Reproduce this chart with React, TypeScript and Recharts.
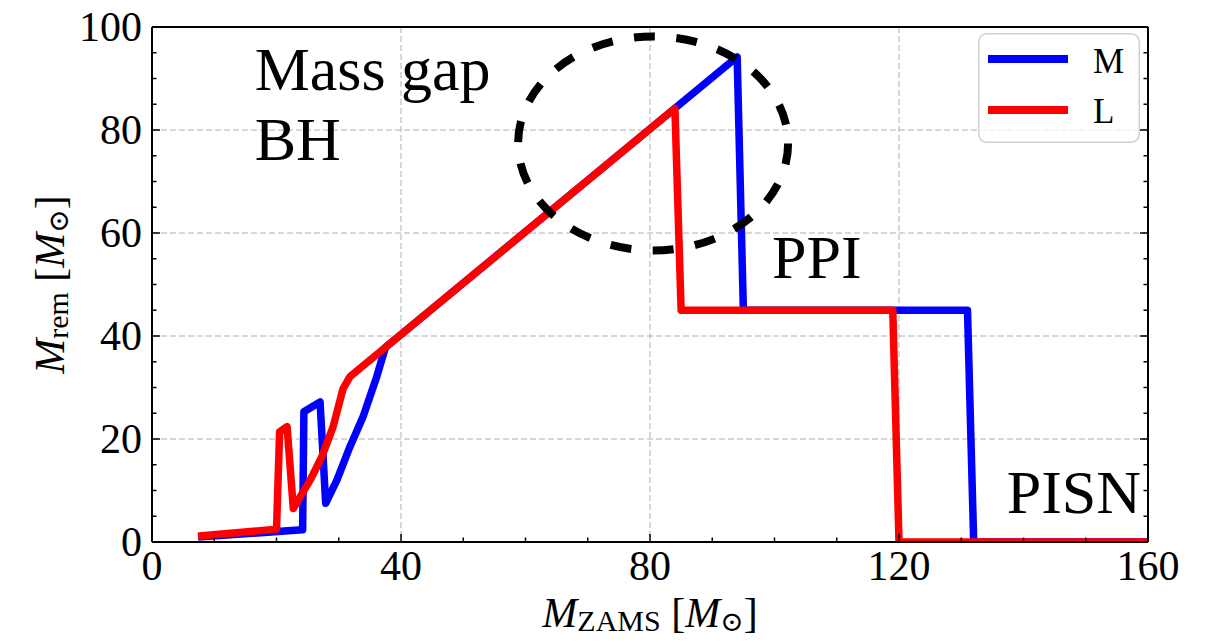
import React from 'react';
import {
  LineChart, Line, XAxis, YAxis, CartesianGrid, ReferenceDot, Legend,
} from 'recharts';

// axis ticks (every minor step), majors carry labels
const xTickValues = [0, 10, 20, 30, 40, 50, 60, 70, 80, 90, 100, 110, 120, 130, 140, 150, 160];
const yTickValues = [0, 5, 10, 15, 20, 25, 30, 35, 40, 45, 50, 55, 60, 65, 70, 75, 80, 85, 90, 95, 100];
const xMajorTicks = [0, 40, 80, 120, 160];
const yMajorTicks = [0, 20, 40, 60, 80, 100];
const xGridValues = [40, 80, 120];
const yGridValues = [20, 40, 60, 80];
const legendOrder = ['M', 'L'];

// model M
const zamsM = [8, 24.2, 24.4, 27, 27.9, 29.7, 31.8, 33.9, 36.1, 37.5, 94, 95, 131, 132, 160];
const remM = [1.0, 2.4, 25.3, 27.2, 7.5, 12, 18.5, 24.3, 32.1, 37.8, 94.2, 45, 45, 0, 0];

// model L
const zamsL = [8, 20, 20.5, 21.7, 22.7, 25.4, 27.3, 29.1, 30.7, 31.8, 84, 85, 119, 120, 160];
const remL = [1.2, 2.5, 21.4, 22.4, 6.5, 12, 16.6, 22.4, 29.8, 32.1, 84.2, 45, 45, 0, 0];

// annotations (data coordinates)
const massGapPos = { x: 16.5, y: 87.8 };
const ppiPos = { x: 99.6, y: 51.3 };
const pisnPos = { x: 137.3, y: 5.6 };
const circleCenter = { x: 80.5, y: 77.4 };

const seriesM = zamsM.map((z, i) => ({ zams: z, rem: remM[i] }));
const seriesL = zamsL.map((z, i) => ({ zams: z, rem: remL[i] }));

const SERIF = '"Liberation Serif", "Times New Roman", "DejaVu Serif", serif';
const TICK = { stroke: '#000', strokeWidth: 1.5 };
const FRAME = { stroke: '#000', strokeWidth: 2 };

const BottomTick = (props: any) => {
  const { x, y, payload } = props;
  const major = xMajorTicks.includes(payload.value);
  return (
    <g>
      <line x1={x} x2={x} y1={y} y2={y - (major ? 8 : 4.5)} {...TICK} />
      {major && (
        <text x={x} y={y + 38} textAnchor="middle" fontFamily={SERIF} fontSize={42} fill="#000">
          {payload.value}
        </text>
      )}
    </g>
  );
};

const TopTick = (props: any) => {
  const { x, y, payload } = props;
  const major = xMajorTicks.includes(payload.value);
  return <line x1={x} x2={x} y1={y} y2={y + (major ? 8 : 4.5)} {...TICK} />;
};

const LeftTick = (props: any) => {
  const { x, y, payload } = props;
  const major = yMajorTicks.includes(payload.value);
  return (
    <g>
      <line x1={x} x2={x + (major ? 8 : 4.5)} y1={y} y2={y} {...TICK} />
      {major && (
        <text x={x - 10} y={y + 14} textAnchor="end" fontFamily={SERIF} fontSize={42} fill="#000">
          {payload.value}
        </text>
      )}
    </g>
  );
};

const RightTick = (props: any) => {
  const { x, y, payload } = props;
  const major = yMajorTicks.includes(payload.value);
  return <line x1={x} x2={x - (major ? 8 : 4.5)} y1={y} y2={y} {...TICK} />;
};

const XLabel = (props: any) => {
  const { viewBox } = props;
  const cx = viewBox.x + viewBox.width / 2;
  return (
    <text x={cx} y={viewBox.y + 85} textAnchor="middle" fontFamily={SERIF} fontSize={42} fill="#000">
      <tspan fontStyle="italic">M</tspan>
      <tspan fontSize={30} dy={4}>ZAMS</tspan>
      <tspan dy={-4}>{' ['}</tspan>
      <tspan fontStyle="italic">M</tspan>
      <tspan fontSize={28} dy={4}>{'\u2299'}</tspan>
      <tspan dy={-4}>]</tspan>
    </text>
  );
};

const YLabel = (props: any) => {
  const { viewBox } = props;
  const x = viewBox.x + viewBox.width - 88;
  const cy = viewBox.y + viewBox.height / 2;
  return (
    <text
      x={x}
      y={cy}
      transform={`rotate(-90 ${x} ${cy})`}
      textAnchor="middle"
      fontFamily={SERIF}
      fontSize={42}
      fill="#000"
    >
      <tspan fontStyle="italic">M</tspan>
      <tspan fontSize={30} dy={4}>rem</tspan>
      <tspan dy={-4}>{' ['}</tspan>
      <tspan fontStyle="italic">M</tspan>
      <tspan fontSize={28} dy={4}>{'\u2299'}</tspan>
      <tspan dy={-4}>]</tspan>
    </text>
  );
};

const LegendBox = (props: any) => {
  const entries = [...(props.payload || [])].sort(
    (a: any, b: any) => legendOrder.indexOf(a.value) - legendOrder.indexOf(b.value),
  );
  return (
    <svg width={162} height={110} style={{ display: 'block' }}>
      <rect x={0.75} y={0.75} width={160.5} height={108.5} rx={8} fill="#fff" fillOpacity={0.8} stroke="#d0d0d0" strokeWidth={1.5} />
      {entries.map((entry: any, i: number) => (
        <g key={entry.value}>
          <line x1={10} x2={90} y1={26 + i * 51} y2={26 + i * 51} stroke={entry.color} strokeWidth={8} />
          <text x={115} y={40 + i * 50} fontFamily={SERIF} fontSize={35} fill="#000">
            {entry.value}
          </text>
        </g>
      ))}
    </svg>
  );
};

const Ellipse = (props: any) => (
  <ellipse
    cx={props.cx}
    cy={props.cy}
    rx={135}
    ry={107}
    fill="none"
    stroke="#000"
    strokeWidth={8}
    strokeDasharray="21 21.5"
  />
);

const textShape = (lines: string[]) => (props: any) => (
  <text x={props.cx} y={props.cy} fontFamily={SERIF} fontSize={62} fill="#000">
    {lines.map((t, i) => (
      <tspan key={t} x={props.cx} dy={i === 0 ? 0 : 70}>{t}</tspan>
    ))}
  </text>
);

const App: React.FC = () => (
  <div style={{ position: 'absolute', left: 0, top: 0 }}>
    <LineChart width={1217} height={642} margin={{ top: 26, right: 68, bottom: 99, left: 151 }}>
      <CartesianGrid
        xAxisId="bottom"
        yAxisId="left"
        verticalValues={xGridValues}
        horizontalValues={yGridValues}
        stroke="#b0b0b0"
        strokeWidth={1}
        strokeDasharray="6 3"
      />
      <XAxis
        xAxisId="bottom"
        dataKey="zams"
        type="number"
        domain={[0, 160]}
        ticks={xTickValues}
        interval={0}
        allowDataOverflow
        height={1}
        tickSize={0}
        tickMargin={0}
        tickLine={false}
        axisLine={FRAME}
        tick={BottomTick}
        label={XLabel}
      />
      <XAxis
        xAxisId="top"
        orientation="top"
        type="number"
        domain={[0, 160]}
        ticks={xTickValues}
        interval={0}
        allowDataOverflow
        height={1}
        tickSize={0}
        tickMargin={0}
        tickLine={false}
        axisLine={FRAME}
        tick={TopTick}
      />
      <YAxis
        yAxisId="left"
        type="number"
        domain={[0, 100]}
        ticks={yTickValues}
        interval={0}
        allowDataOverflow
        width={1}
        tickSize={0}
        tickMargin={0}
        tickLine={false}
        axisLine={FRAME}
        tick={LeftTick}
        label={YLabel}
      />
      <YAxis
        yAxisId="right"
        orientation="right"
        type="number"
        domain={[0, 100]}
        ticks={yTickValues}
        interval={0}
        allowDataOverflow
        width={1}
        tickSize={0}
        tickMargin={0}
        tickLine={false}
        axisLine={FRAME}
        tick={RightTick}
      />
      <Line
        xAxisId="bottom"
        yAxisId="left"
        data={seriesM}
        dataKey="rem"
        name="M"
        type="linear"
        stroke="#0000ff"
        strokeWidth={7.5}
        strokeLinejoin="round"
        strokeLinecap="square"
        dot={false}
        activeDot={false}
        isAnimationActive={false}
      />
      <Line
        xAxisId="bottom"
        yAxisId="left"
        data={seriesL}
        dataKey="rem"
        name="L"
        type="linear"
        stroke="#ff0000"
        strokeWidth={7.5}
        strokeLinejoin="round"
        strokeLinecap="square"
        dot={false}
        activeDot={false}
        isAnimationActive={false}
      />
      <ReferenceDot xAxisId="bottom" yAxisId="left" x={circleCenter.x} y={circleCenter.y} shape={Ellipse} />
      <ReferenceDot xAxisId="bottom" yAxisId="left" x={massGapPos.x} y={massGapPos.y} shape={textShape(['Mass gap', 'BH'])} />
      <ReferenceDot xAxisId="bottom" yAxisId="left" x={ppiPos.x} y={ppiPos.y} shape={textShape(['PPI'])} />
      <ReferenceDot xAxisId="bottom" yAxisId="left" x={pisnPos.x} y={pisnPos.y} shape={textShape(['PISN'])} />
      <Legend
        layout="vertical"
        align="center"
        verticalAlign="middle"
        content={LegendBox}
        wrapperStyle={{ left: 978, top: 33, width: 162, height: 110 }}
      />
    </LineChart>
  </div>
);

export default App;
